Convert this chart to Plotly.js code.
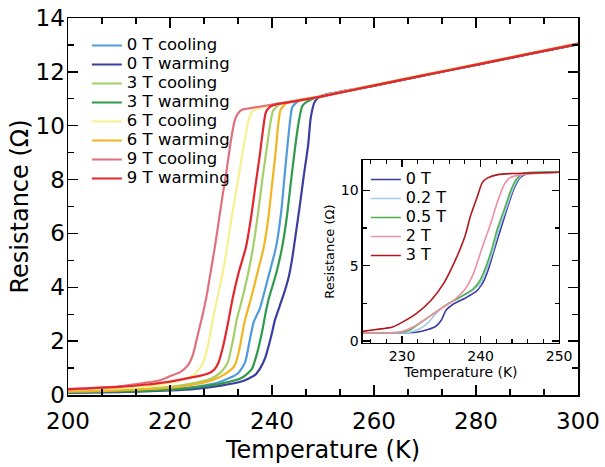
<!DOCTYPE html>
<html><head><meta charset="utf-8">
<script src="https://cdn.plot.ly/plotly-3.0.1.min.js"></script>
<style>html,body{margin:0;padding:0;background:#fff}#chart{width:605px;height:467px}</style>
</head><body><div id="chart"></div>
<script>
// ---- main panel: temperature (K) / resistance (ohm) ----
const names = ["0 T cooling","0 T warming","3 T cooling","3 T warming","6 T cooling","6 T warming","9 T cooling","9 T warming"];
const colors = ["#4f9bdc","#3c3d9f","#a3cf6a","#2f9a4a","#f7f08e","#f2b520","#e0707c","#e3272f"];

const t0c = [200,210,220,225,230,233.3,234.7,235.6,236.4,237.6,238.2,239.3,240.8,241.8,242.4,243.0,243.5,244.0,245.5,250,260,270,280,290,300];
const r0c = [0.1,0.14,0.22,0.3,0.5,0.8,1.2,2.0,2.7,3.2,3.6,4.4,5.5,6.8,8.0,9.2,10.1,10.7,10.95,11.1,11.49,11.88,12.26,12.65,13.03];
const t0w = [200,210,220,225,230,234,236.7,237.7,238.7,239.8,240.6,241.5,242.4,243.3,243.9,244.6,245.5,246.2,247.1,247.6,248.4,249.8,260,270,280,290,300];
const r0w = [0.08,0.11,0.17,0.23,0.35,0.5,0.75,1.0,1.4,2.15,2.8,3.3,3.8,4.4,5.0,5.9,7.1,8.1,9.3,10.3,10.9,11.12,11.49,11.88,12.26,12.65,13.02];
const t3c = [200,210,220,225,228,230,231.3,232.3,233.1,234.2,235.3,236.3,237.3,238.1,239.0,239.6,240.2,241.5,244,250,260,270,280,290,300];
const r3c = [0.12,0.18,0.3,0.45,0.6,0.85,1.2,2.0,2.8,3.6,4.5,5.5,6.8,8.0,9.2,10.0,10.55,10.8,10.9,11.1,11.5,11.89,12.27,12.66,13.04];
const t3w = [200,210,220,225,230,234,236,237,238,238.8,239.4,240.8,242.0,242.9,243.7,244.4,245.2,246.0,248,250,260,270,280,290,300];
const r3w = [0.1,0.13,0.2,0.28,0.42,0.63,0.95,1.5,2.3,3.1,3.6,4.5,5.5,6.6,7.9,9.0,10.1,10.75,11.0,11.1,11.49,11.88,12.26,12.65,13.03];
const t6c = [200,210,215,220,223,225,226.5,227.5,228.6,229.4,230.5,231.2,232.0,232.9,233.8,234.6,235.4,236.2,237.5,240,245,250,260,270,280,290,300];
const r6c = [0.15,0.22,0.3,0.45,0.6,0.8,1.2,1.9,3.0,3.7,4.7,5.5,6.5,7.5,8.5,9.4,10.2,10.55,10.65,10.75,10.93,11.12,11.52,11.91,12.29,12.68,13.06];
const t6w = [200,210,220,225,228.7,231,232.7,233.6,234.6,235.9,237.1,238.4,239.3,240.0,240.7,241.2,241.7,243,250,260,270,280,290,300];
const r6w = [0.12,0.17,0.27,0.4,0.58,0.8,1.1,1.7,2.7,3.6,4.5,5.5,6.6,7.8,9.0,10.0,10.6,10.85,11.1,11.5,11.89,12.27,12.66,13.04];
const t9c = [200,205,210,215,218,220,222,223.5,224.5,225.4,226.3,227.2,228.0,228.8,229.6,230.3,231.0,231.9,232.7,233.3,234.2,236,240,245,250,260,270,280,290,300];
const r9c = [0.2,0.25,0.32,0.45,0.55,0.7,0.85,1.1,1.5,2.2,2.9,3.7,4.6,5.5,6.5,7.4,8.2,9.4,10.2,10.45,10.6,10.66,10.78,10.93,11.1,11.5,11.89,12.27,12.66,13.05];
const t9w = [200,210,215,220,225,227.5,228.7,229.5,230.4,231.3,232.3,233.4,234.9,235.9,236.7,237.6,238.2,238.8,239.6,241,245,250,260,270,280,290,300];
const r9w = [0.22,0.3,0.38,0.5,0.68,0.8,0.95,1.2,1.8,2.6,3.6,4.5,5.5,6.6,7.7,8.9,9.8,10.5,10.7,10.8,10.92,11.1,11.49,11.88,12.26,12.65,13.03];

const mainT = [t0c,t0w,t3c,t3w,t6c,t6w,t9c,t9w];
const mainR = [r0c,r0w,r3c,r3w,r6c,r6w,r9c,r9w];

// ---- inset panel ----
const insNames = ["0 T","0.2 T","0.5 T","2 T","3 T"];
const insColors = ["#3a3ea2","#a3cbe8","#4caf50","#ee90a2","#b2161f"];
const i0T = [225,231.8,233.3,234.3,235.0,235.6,236.5,238.2,239.4,240.1,240.5,241.1,241.8,242.6,243.4,244.2,245.0,246.0,250];
const i0R = [0.53,0.58,0.76,0.98,1.38,2.04,2.44,2.89,3.27,3.71,4.09,4.93,6.16,7.49,8.82,10.04,10.82,11.11,11.2];
const i02T = [225,230.9,232.2,233.3,234.3,235.6,237.3,239.0,240.1,240.8,241.6,242.3,243.2,244.0,244.8,245.6,250];
const i02R = [0.53,0.58,0.8,1.2,1.82,2.38,2.87,3.38,3.93,4.82,6.04,7.38,8.71,9.93,10.76,11.11,11.2];
const i05T = [225,229.7,230.9,232.2,233.9,235.6,237.3,239.0,239.9,240.6,241.4,242.1,243.0,243.8,244.6,245.4,250];
const i05R = [0.53,0.58,0.71,1.16,1.78,2.38,2.89,3.42,4.0,4.82,6.04,7.38,8.71,9.93,10.76,11.11,11.2];
const i2T = [225,229.7,231.4,233.1,234.8,236.5,238.0,239.1,240.1,241.3,242.1,243.0,243.7,245.0,250];
const i2R = [0.53,0.6,0.93,1.49,2.09,2.67,3.42,4.49,6.04,7.82,9.16,10.38,10.82,11.02,11.2];
const i3T = [225,226.7,228.8,230.1,231.8,233.7,235.3,236.8,238.0,238.7,239.6,240.2,240.9,242.2,244,250];
const i3R = [0.64,0.76,0.93,1.27,1.82,2.71,3.82,5.38,6.93,8.27,9.6,10.49,10.82,11.04,11.11,11.2];
const insT = [i0T,i02T,i05T,i2T,i3T];
const insR = [i0R,i02R,i05R,i2R,i3R];

const FONT = "DejaVu Sans, Liberation Sans, Arial, sans-serif";
const traces = [];
for (let i = 0; i < names.length; i++) {
  traces.push({x: mainT[i], y: mainR[i], name: '<span style="font-size:16.5px">' + names[i] + '</span>',
    type: "scatter", mode: "lines",
    line: {color: colors[i], width: 2.2, shape: "spline", smoothing: 0.6}, legend: "legend", xaxis: "x", yaxis: "y"});
}
for (let i = 0; i < insNames.length; i++) {
  traces.push({x: insT[i], y: insR[i], name: '<span style="font-size:16px">' + insNames[i] + '</span>',
    type: "scatter", mode: "lines",
    line: {color: insColors[i], width: 1.6, shape: "spline", smoothing: 0.6}, legend: "legend2", xaxis: "x2", yaxis: "y2"});
}

const axBase = {showline: true, linecolor: "#000", linewidth: 1.5, mirror: "ticks", ticks: "inside",
  tickcolor: "#000", showgrid: false, zeroline: false, color: "#000"};

const layout = {
  width: 605, height: 467,
  margin: {l: 68, r: 27, t: 18, b: 72},
  paper_bgcolor: "#fff", plot_bgcolor: "#fff",
  font: {family: FONT, color: "#000"},
  showlegend: true,
  xaxis: Object.assign({}, axBase, {range: [200, 300], dtick: 20, tick0: 200, ticklen: 10, tickwidth: 1.3,
    minor: {dtick: 20/3, ticklen: 6, tickcolor: "#000", ticks: "inside"}, ticklabelstandoff: 5,
    tickfont: {size: 23}, title: {text: "Temperature (K)", font: {size: 24}, standoff: 8}, domain: [0, 1]}),
  yaxis: Object.assign({}, axBase, {range: [0, 14], dtick: 2, ticklen: 10, tickwidth: 1.3,
    minor: {dtick: 1, ticklen: 6, tickcolor: "#000", ticks: "inside"}, ticklabelstandoff: -3,
    tickfont: {size: 23}, title: {text: "Resistance (Ω)", font: {size: 24}, standoff: 0}, domain: [0, 1]}),
  xaxis2: Object.assign({}, axBase, {anchor: "y2", domain: [0.578, 0.963], range: [225, 250], dtick: 10, tick0: 230,
    ticklen: 7, tickwidth: 1.2, linewidth: 1.3,
    minor: {dtick: 2, tick0: 226, ticklen: 4, tickcolor: "#000", ticks: "inside"},
    tickfont: {size: 14}, title: {text: "Temperature (K)", font: {size: 14}, standoff: 2}}),
  yaxis2: Object.assign({}, axBase, {anchor: "x2", domain: [0.138, 0.623], range: [-0.13, 12], dtick: 5, tick0: 0,
    ticklen: 7, tickwidth: 1.2, linewidth: 1.3,
    minor: {dtick: 2.5, ticklen: 4, tickcolor: "#000", ticks: "inside"},
    tickfont: {size: 14}, title: {text: "Resistance (Ω)", font: {size: 13}, standoff: 3}}),
  legend: {x: 0.037, y: 0.9655, xanchor: "left", yanchor: "top", bgcolor: "rgba(0,0,0,0)",
    font: {size: 12}, tracegroupgap: 0, itemwidth: 30},
  legend2: {x: 0.584, y: 0.61, xanchor: "left", yanchor: "top", bgcolor: "rgba(0,0,0,0)",
    font: {size: 12}, tracegroupgap: 0, itemwidth: 30}
};

Plotly.newPlot("chart", traces, layout, {displayModeBar: false, staticPlot: true});
</script></body></html>
